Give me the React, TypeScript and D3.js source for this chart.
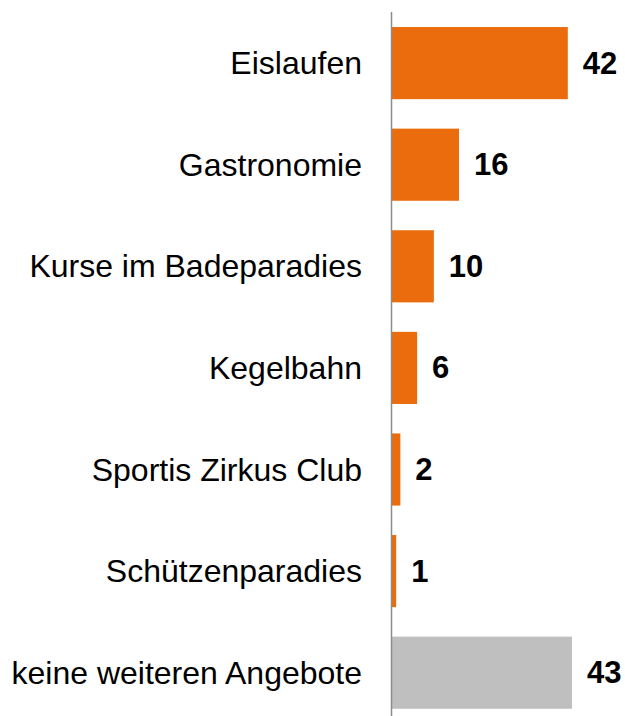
import React from "react";
import * as d3 from "d3";

const categories = [
  "Eislaufen",
  "Gastronomie",
  "Kurse im Badeparadies",
  "Kegelbahn",
  "Sportis Zirkus Club",
  "Schützenparadies",
  "keine weiteren Angebote",
];
const values = [42, 16, 10, 6, 2, 1, 43];
const highlight = [true, true, true, true, true, true, false];

const W = 625;
const H = 716;

export default function App() {
  const x0 = 392;
  const x = d3.scaleLinear().domain([0, 43]).range([x0, x0 + 180]);
  const y = d3
    .scaleBand<string>()
    .domain(categories)
    .range([12.3, 723.5])
    .paddingInner(0.29)
    .paddingOuter(0.145);

  return (
    <svg
      width={W}
      height={H}
      style={{ position: "absolute", left: 0, top: 0, display: "block" }}
      fontFamily="'Liberation Sans', Arial, sans-serif"
    >
      {categories.map((c, i) => {
        const yy = y(c)!;
        const bw = y.bandwidth();
        const cy = yy + bw / 2;
        return (
          <g key={c}>
            <rect
              x={x(0)}
              y={yy}
              width={x(values[i]) - x(0)}
              height={bw}
              fill={highlight[i] ? "#EA6C0C" : "#BFBFBF"}
            />
            <text
              x={362}
              y={cy}
              textAnchor="end"
              dominantBaseline="central"
              fontSize={32}
              fill="#000"
            >
              {c}
            </text>
            <text
              x={x(values[i]) + 15}
              y={cy}
              dominantBaseline="central"
              fontSize={31}
              fontWeight="bold"
              fill="#000"
            >
              {values[i]}
            </text>
          </g>
        );
      })}
      <line x1={391.5} x2={391.5} y1={12} y2={H} stroke="#8C8C8C" strokeWidth={1.5} />
    </svg>
  );
}
